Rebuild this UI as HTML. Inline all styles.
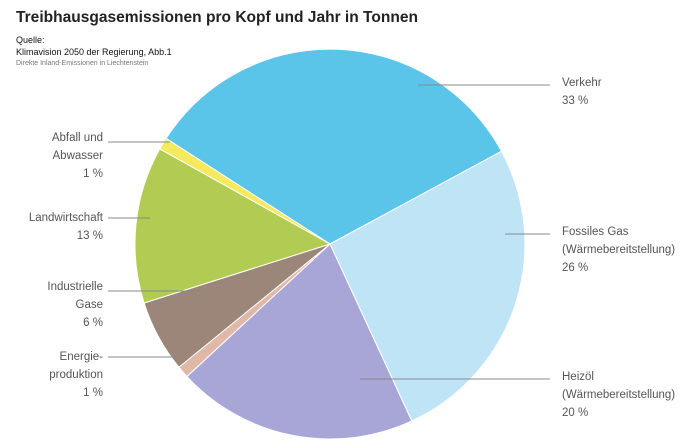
<!DOCTYPE html><html><head><style>body{margin:0;background:#fff}svg{display:block}</style></head><body>
<svg width="696" height="445" xmlns="http://www.w3.org/2000/svg" font-family="Liberation Sans, sans-serif">
<text x="16" y="22" font-size="16" font-weight="bold" fill="#222" textLength="402" lengthAdjust="spacingAndGlyphs">Treibhausgasemissionen pro Kopf und Jahr in Tonnen</text>
<text x="16" y="43" font-size="9" fill="#111">Quelle:</text>
<text x="16" y="55" font-size="9" fill="#111">Klimavision 2050 der Regierung, Abb.1</text>
<text x="16" y="65" font-size="7" fill="#777">Direkte Inland-Emissionen in Liechtenstein</text>
<g stroke="#fff" stroke-width="1">
<path d="M330,244 L166.1,138.4 A195,195 0 0 1 501.5,151.3 Z" fill="#5bc5e9"/>
<path d="M330,244 L501.5,151.3 A195,195 0 0 1 411.8,421 Z" fill="#bfe4f6"/>
<path d="M330,244 L411.8,421 A195,195 0 0 1 186.9,376.5 Z" fill="#a7a6d6"/>
<path d="M330,244 L186.9,376.5 A195,195 0 0 1 178.9,367.2 Z" fill="#e0b8a8"/>
<path d="M330,244 L178.9,367.2 A195,195 0 0 1 144.1,303 Z" fill="#9b8679"/>
<path d="M330,244 L144.1,303 A195,195 0 0 1 159.8,148.9 Z" fill="#b2cb52"/>
<path d="M330,244 L159.8,148.9 A195,195 0 0 1 166.1,138.4 Z" fill="#f5ea5e"/>
</g>
<g stroke="#888" stroke-width="1">
<line x1="418" y1="85" x2="550" y2="85"/><line x1="505" y1="234" x2="550" y2="234"/>
<line x1="360" y1="379" x2="550" y2="379"/><line x1="108" y1="142" x2="170" y2="142"/>
<line x1="108" y1="218" x2="150" y2="218"/><line x1="108" y1="291" x2="200" y2="291"/>
<line x1="108" y1="357" x2="176" y2="357"/></g>
<g font-size="11.5" fill="#555">
<text x="562" y="86">Verkehr</text><text x="562" y="104">33 %</text>
<text x="562" y="235">Fossiles Gas</text><text x="562" y="253">(Wärmebereitstellung)</text><text x="562" y="271">26 %</text>
<text x="562" y="380">Heizöl</text><text x="562" y="398">(Wärmebereitstellung)</text><text x="562" y="416">20 %</text>
<g text-anchor="end">
<text x="103" y="141">Abfall und</text><text x="103" y="159">Abwasser</text><text x="103" y="177">1 %</text>
<text x="103" y="221">Landwirtschaft</text><text x="103" y="239">13 %</text>
<text x="103" y="290">Industrielle</text><text x="103" y="308">Gase</text><text x="103" y="326">6 %</text>
<text x="103" y="360">Energie-</text><text x="103" y="378">produktion</text><text x="103" y="396">1 %</text>
</g></g>
</svg></body></html>
